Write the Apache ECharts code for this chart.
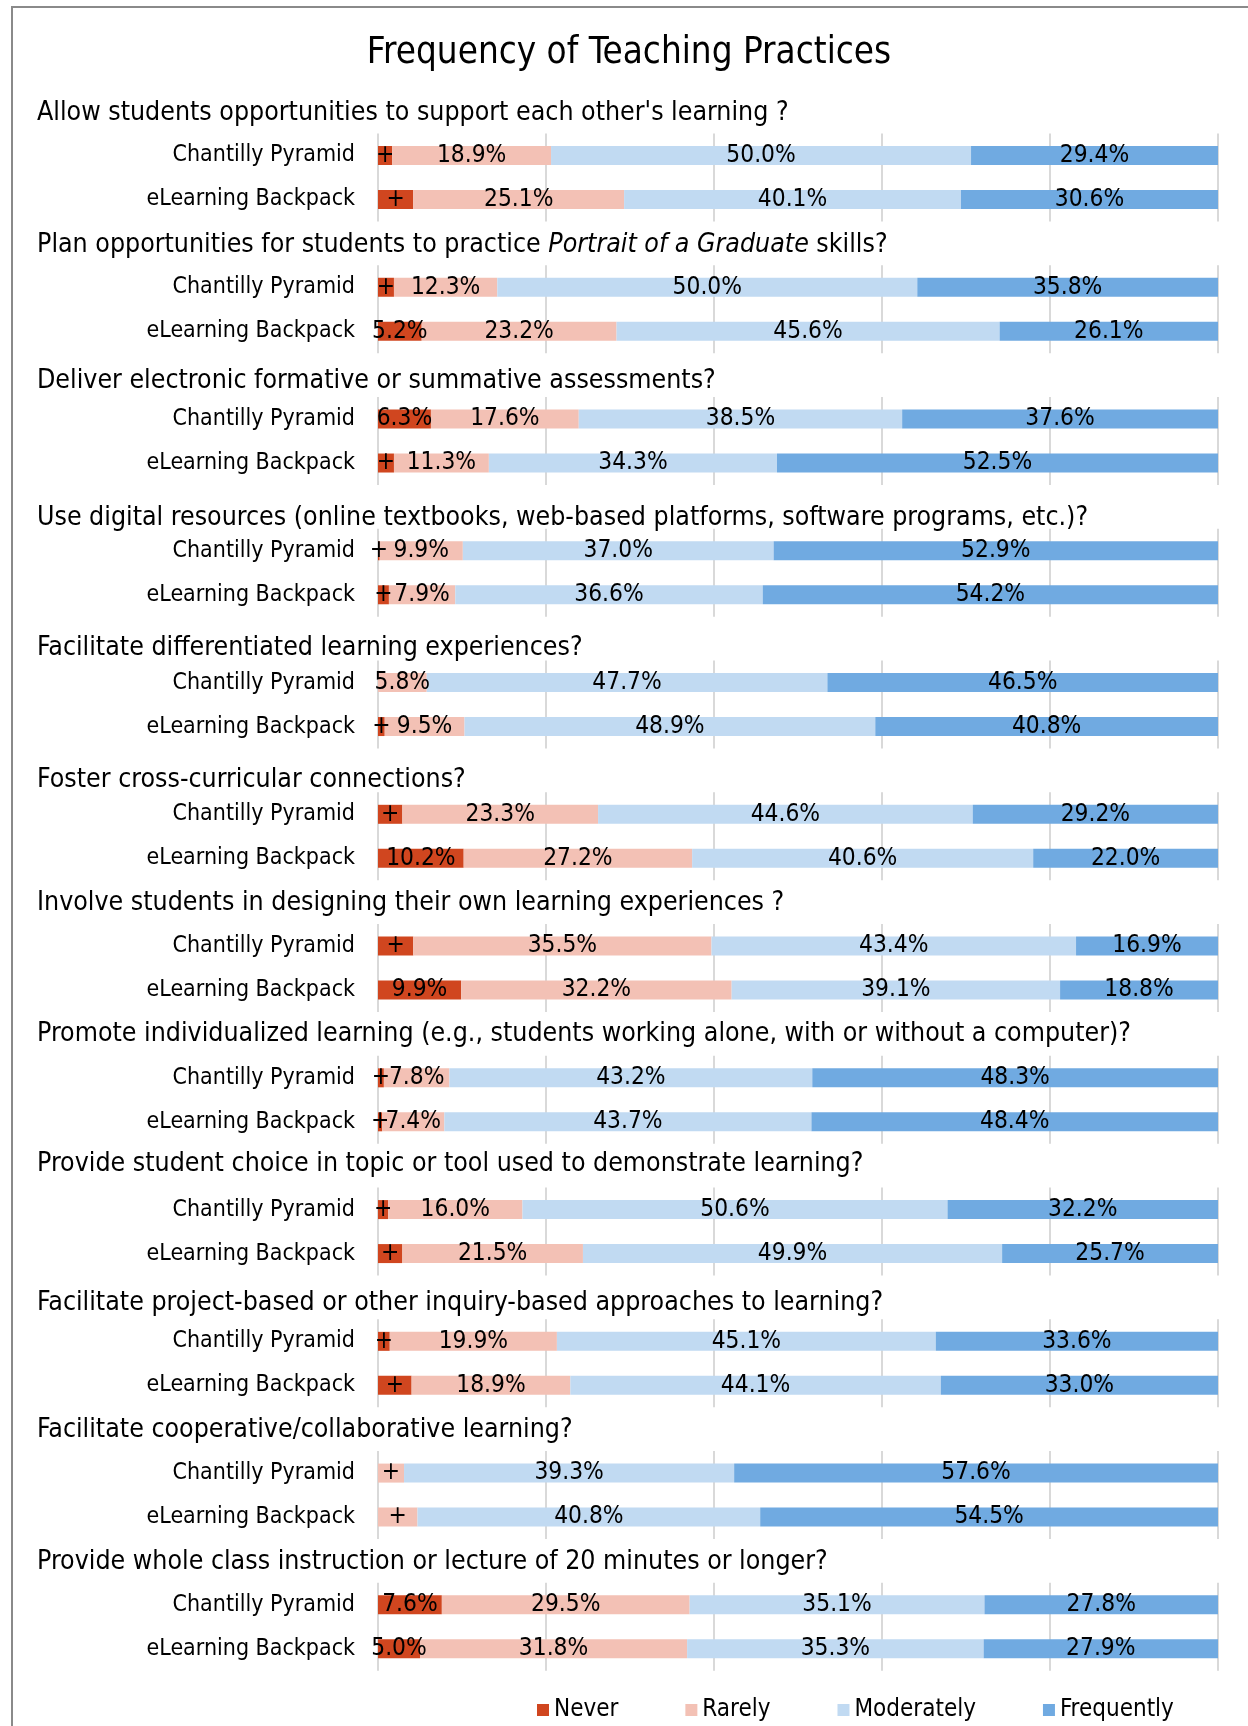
<!DOCTYPE html>
<html>
<head>
<meta charset="utf-8">
<script src="https://cdn.jsdelivr.net/npm/echarts@6/dist/echarts.min.js"></script>
<style>
  html, body { margin: 0; padding: 0; background: #fff; }
  #frame { position: absolute; left: 11px; top: 6px; right: 0; bottom: 0; border-top: 2px solid #8a8a8a; border-left: 2px solid #8a8a8a; }
  #chart { position: absolute; left: 0; top: 0; width: 1248px; height: 1726px; }
</style>
</head>
<body>
<div id="frame"></div>
<div id="chart"></div>
<script>
// 数据
const chartTitle = 'Frequency of Teaching Practices';
const categories = ['Chantilly Pyramid', 'eLearning Backpack'];
const levels = ['Never', 'Rarely', 'Moderately', 'Frequently'];
const questions = [
    "Allow students opportunities to support each other's learning ?",
    '{n|Plan opportunities for students to practice }{i|Portrait of a Graduate}{n| skills?}',
    'Deliver electronic formative or summative assessments?',
    'Use digital resources (online textbooks, web-based platforms, software programs, etc.)?',
    'Facilitate differentiated learning experiences?',
    'Foster cross-curricular connections?',
    'Involve students in designing their own learning experiences ?',
    'Promote individualized learning (e.g., students working alone, with or without a computer)?',
    'Provide student choice in topic or tool used to demonstrate learning?',
    'Facilitate project-based or other inquiry-based approaches to learning?',
    'Facilitate cooperative/collaborative learning?',
    'Provide whole class instruction or lecture of 20 minutes or longer?'
];
// [Chantilly Pyramid, eLearning Backpack] per question
const never = [[1.7, 4.2], [1.9, 5.2], [6.3, 1.9], [0.2, 1.3], [0, 0.8], [2.9, 10.2],
    [4.2, 9.9], [0.7, 0.5], [1.2, 2.9], [1.4, 4.0], [0, 0], [7.6, 5.0]];
const rarely = [[18.9, 25.1], [12.3, 23.2], [17.6, 11.3], [9.9, 7.9], [5.8, 9.5], [23.3, 27.2],
    [35.5, 32.2], [7.8, 7.4], [16.0, 21.5], [19.9, 18.9], [3.1, 4.7], [29.5, 31.8]];
const moderately = [[50.0, 40.1], [50.0, 45.6], [38.5, 34.3], [37.0, 36.6], [47.7, 48.9], [44.6, 40.6],
    [43.4, 39.1], [43.2, 43.7], [50.6, 49.9], [45.1, 44.1], [39.3, 40.8], [35.1, 35.3]];
const frequently = [[29.4, 30.6], [35.8, 26.1], [37.6, 52.5], [52.9, 54.2], [46.5, 40.8], [29.2, 22.0],
    [16.9, 18.8], [48.3, 48.4], [32.2, 25.7], [33.6, 33.0], [57.6, 54.5], [27.8, 27.9]];
const xTicks = [0, 20, 40, 60, 80, 100];

const colors = ['#d0461f', '#f3c1b5', '#c1daf2', '#70aae1'];
const FONT = '"DejaVu Sans Condensed", "DejaVu Sans", sans-serif';

// 布局
const firstBar = 155.5;  // 第一组第一根柱子的中心
const step = 131.76;     // 每组间距
const band = 44;         // 组内两柱间距
const titleOffset = [-44, -44, -39, -34, -36, -36, -44, -45, -47, -40, -44, -44]; // 问题文字相对柱子的位置

const chart = echarts.init(document.getElementById('chart'));

const grids = [], xAxes = [], yAxes = [], series = [], graphics = [];
const valuesByLevel = [never, rarely, moderately, frequently];

questions.forEach((q, i) => {
    const cy = firstBar + i * step;
    grids.push({ left: 378, width: 840, top: cy - band / 2, height: band * 2 });
    xAxes.push({
        gridIndex: i, type: 'value', min: xTicks[0], max: xTicks[xTicks.length - 1],
        interval: xTicks[1] - xTicks[0],
        axisLabel: { show: false }, axisTick: { show: false }, axisLine: { show: false },
        splitLine: { show: true, lineStyle: { color: '#d9d9d9', width: 2 } }
    });
    yAxes.push({
        gridIndex: i, type: 'category', data: categories, inverse: true,
        axisLine: { show: false }, axisTick: { show: false },
        axisLabel: { color: '#000', fontSize: 23, fontFamily: FONT, margin: 23 }
    });
    levels.forEach((name, k) => {
        series.push({
            name: name, type: 'bar', stack: 'q' + i,
            xAxisIndex: i, yAxisIndex: i, barWidth: 19,
            data: valuesByLevel[k][i],
            itemStyle: { color: colors[k] },
            label: {
                show: true, position: 'inside', color: '#000',
                fontSize: 24.3, fontFamily: FONT,
                formatter: p => p.value === 0 ? '' : (p.value < 5 ? '+' : p.value.toFixed(1) + '%')
            },
            emphasis: { disabled: true }
        });
    });
    graphics.push({
        type: 'text', x: 37, y: cy + titleOffset[i] + 1.5,
        style: {
            text: q, fill: '#000', font: '26.5px ' + FONT, verticalAlign: 'middle',
            rich: {
                n: { fontSize: 26.5, fontFamily: FONT, fill: '#000' },
                i: { fontSize: 26.5, fontFamily: FONT, fontStyle: 'italic', fill: '#000' }
            }
        }
    });
});

graphics.push({
    type: 'text', x: 629, y: 54,
    style: { text: chartTitle, fill: '#000', font: '36.5px ' + FONT, align: 'center', verticalAlign: 'middle' }
});

const option = {
    animation: false,
    grid: grids,
    xAxis: xAxes,
    yAxis: yAxes,
    series: series,
    graphic: graphics,
    legend: {
        data: levels, left: 537, top: 1698, padding: 0,
        icon: 'rect', itemWidth: 12, itemHeight: 12, itemGap: 67,
        textStyle: { color: '#000', fontSize: 24, fontFamily: FONT }
    }
};

chart.setOption(option);
</script>
</body>
</html>
